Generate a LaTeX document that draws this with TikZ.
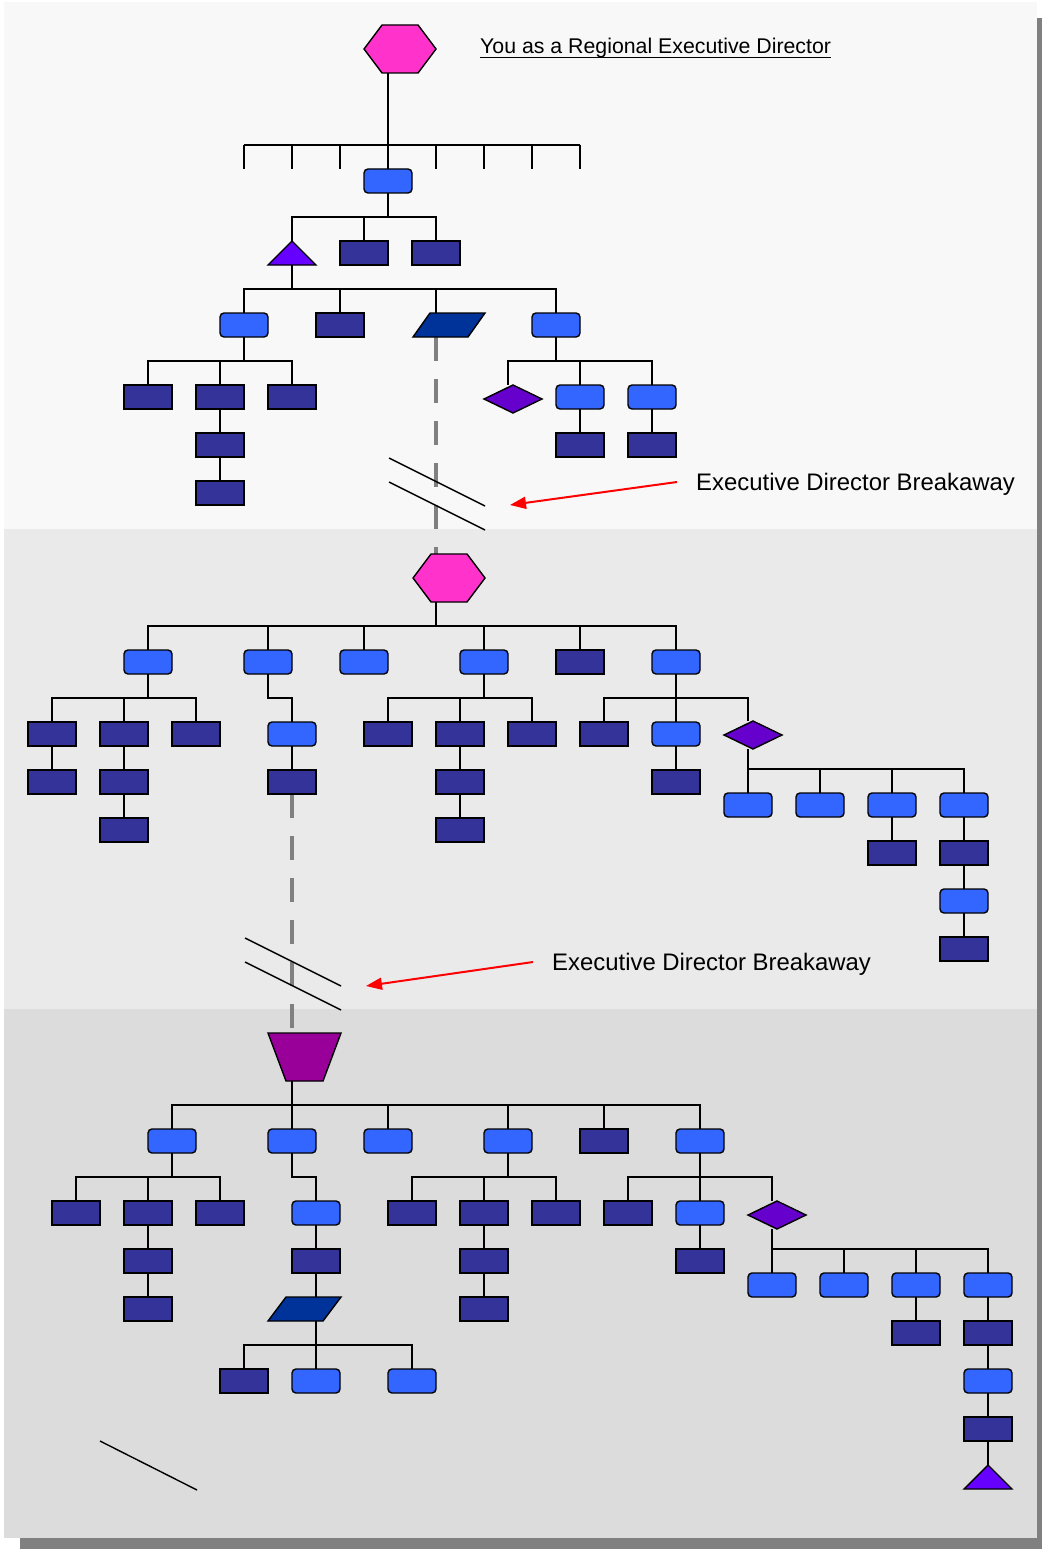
\documentclass[tikz,border=0pt]{standalone}
\usepackage{fontspec}
\setmainfont{Liberation Sans}
\usetikzlibrary{arrows.meta}
\definecolor{lblue}{HTML}{3366FF}
\definecolor{dblue}{HTML}{333399}
\definecolor{tric}{HTML}{6600FF}
\definecolor{diac}{HTML}{6600CC}
\definecolor{parc}{HTML}{003399}
\definecolor{hexc}{HTML}{FF33CC}
\definecolor{trapc}{HTML}{990099}
\definecolor{dgray}{HTML}{808080}
\definecolor{bandA}{HTML}{F8F8F8}
\definecolor{bandB}{HTML}{EAEAEA}
\definecolor{bandC}{HTML}{DCDCDC}
\pgfdeclarelayer{back}
\pgfdeclarelayer{conns}
\pgfsetlayers{back,conns,main}
\begin{document}
\begin{tikzpicture}[x=1pt,y=-1pt,
  box/.style={draw=black,line width=1.4pt,minimum width=48pt,minimum height=24pt,inner sep=0pt,outer sep=0pt},
  lb/.style={box,fill=lblue,rounded corners=4pt},
  db/.style={box,fill=dblue},
  ghost/.style 2 args={inner sep=0pt,outer sep=0pt,minimum width=#1,minimum height=#2},
  shp/.style={draw=black,line width=1.4pt,line join=miter},
  conn/.style={draw=black,line width=1.3pt},
  dashl/.style={draw=dgray,line width=4pt,dash pattern=on 24pt off 18pt},
  slash/.style={draw=black,line width=1.4pt},
  redarr/.style={draw=red,line width=2pt,-{Triangle[length=16pt,width=12pt]}},
  lbl/.style={font=\fontsize{23.9}{28}\selectfont,inner sep=0pt,anchor=base west}
]
\useasboundingbox (0,0) rectangle (1042,1549);
\begin{pgfonlayer}{back}
  \fill[white] (0,0) rectangle (1042,1549);
  \fill[dgray] (20,18) rectangle (1042,1549);
  \fill[bandA] (4,2) rectangle (1037,529);
  \fill[bandB] (4,529) rectangle (1037,1009);
  \fill[bandC] (4,1009) rectangle (1037,1538);
\end{pgfonlayer}

% ---------------- top section ----------------
\node[ghost={72pt}{48pt}] (H1) at (400,49) {};
\draw[shp,fill=hexc] (H1.west) -- ([xshift=18pt]H1.north west) -- ([xshift=-18pt]H1.north east) -- (H1.east) -- ([xshift=-18pt]H1.south east) -- ([xshift=18pt]H1.south west) -- cycle;
\node[anchor=base west,inner sep=0pt,font=\fontsize{21.3}{25}\selectfont] (Title) at (480,54) {You as a Regional Executive Director};
\draw[line width=1.3pt] ([yshift=-3.5pt]Title.base west) -- ([yshift=-3.5pt]Title.base east);
\coordinate (bar0) at (388,145);

\node[lb] (B1) at (388,181) {};
\node[ghost={48pt}{24pt}] (T1) at (292,253) {};
\draw[shp,fill=tric] (T1.south west) -- (T1.north) -- (T1.south east) -- cycle;
\node[db] (D1) at (364,253) {};
\node[db] (D2) at (436,253) {};
\node[lb] (L1) at (244,325) {};
\node[db] (D3) at (340,325) {};
\node[ghost={72pt}{24pt}] (P1) at (449,325) {};
\draw[shp,fill=parc] (P1.south west) -- ([xshift=17pt]P1.north west) -- (P1.north east) -- ([xshift=-17pt]P1.south east) -- cycle;
\node[lb] (L2) at (556,325) {};
\node[db] (D4) at (148,397) {};
\node[db] (D5) at (220,397) {};
\node[db] (D6) at (292,397) {};
\node[db] (D7) at (220,445) {};
\node[db] (D8) at (220,493) {};
\node[ghost={58pt}{28pt}] (M1) at (513,399) {};
\draw[shp,fill=diac] (M1.west) -- (M1.north) -- (M1.east) -- (M1.south) -- cycle;
\node[lb] (L3) at (580,397) {};
\node[lb] (L4) at (652,397) {};
\node[db] (D9) at (580,445) {};
\node[db] (D10) at (652,445) {};

\node[lbl] (Lab1) at (696,490) {Executive Director Breakaway};
\coordinate (tip1) at (510,505);

% ---------------- middle section ----------------
\node[ghost={72pt}{48pt}] (H2) at (449,578) {};
\draw[shp,fill=hexc] (H2.west) -- ([xshift=18pt]H2.north west) -- ([xshift=-18pt]H2.north east) -- (H2.east) -- ([xshift=-18pt]H2.south east) -- ([xshift=18pt]H2.south west) -- cycle;
\node[lb] (A1) at (148,662) {};
\node[lb] (A2) at (268,662) {};
\node[lb] (A3) at (364,662) {};
\node[lb] (A4) at (484,662) {};
\node[db] (A5) at (580,662) {};
\node[lb] (A6) at (676,662) {};
\node[db] (E1) at (52,734) {};
\node[db] (E2) at (124,734) {};
\node[db] (E3) at (196,734) {};
\node[db] (E4) at (52,782) {};
\node[db] (E5) at (124,782) {};
\node[db] (E6) at (124,830) {};
\node[lb] (F1) at (292,734) {};
\node[db] (F2) at (292,782) {};
\node[db] (G1) at (388,734) {};
\node[db] (G2) at (460,734) {};
\node[db] (G3) at (532,734) {};
\node[db] (G4) at (460,782) {};
\node[db] (G5) at (460,830) {};
\node[db] (K1) at (604,734) {};
\node[lb] (K2) at (676,734) {};
\node[db] (K3) at (676,782) {};
\node[ghost={58pt}{28pt}] (M2) at (753,735) {};
\draw[shp,fill=diac] (M2.west) -- (M2.north) -- (M2.east) -- (M2.south) -- cycle;
\node[lb] (N1) at (748,805) {};
\node[lb] (N2) at (820,805) {};
\node[lb] (N3) at (892,805) {};
\node[lb] (N4) at (964,805) {};
\node[db] (N5) at (892,853) {};
\node[db] (N6) at (964,853) {};
\node[lb] (N7) at (964,901) {};
\node[db] (N8) at (964,949) {};

\node[lbl] (Lab2) at (552,970) {Executive Director Breakaway};
\coordinate (tip2) at (366,986);

% ---------------- bottom section ----------------
\node[ghost={73pt}{48pt}] (Tz) at (304.5,1057) {};
\draw[shp,fill=trapc] (Tz.north west) -- (Tz.north east) -- ([xshift=-18pt]Tz.south east) -- ([xshift=18pt]Tz.south west) -- cycle;
\node[lb] (R1) at (172,1141) {};
\node[lb] (R2) at (292,1141) {};
\node[lb] (R3) at (388,1141) {};
\node[lb] (R4) at (508,1141) {};
\node[db] (R5) at (604,1141) {};
\node[lb] (R6) at (700,1141) {};
\node[db] (S1) at (76,1213) {};
\node[db] (S2) at (148,1213) {};
\node[db] (S3) at (220,1213) {};
\node[db] (S4) at (148,1261) {};
\node[db] (S5) at (148,1309) {};
\node[lb] (U1) at (316,1213) {};
\node[db] (U2) at (316,1261) {};
\node[ghost={73pt}{24pt}] (P2) at (304.5,1309) {};
\draw[shp,fill=parc] (P2.south west) -- ([xshift=18pt]P2.north west) -- (P2.north east) -- ([xshift=-18pt]P2.south east) -- cycle;
\node[db] (V1) at (244,1381) {};
\node[lb] (V2) at (316,1381) {};
\node[lb] (V3) at (412,1381) {};
\node[db] (W1) at (412,1213) {};
\node[db] (W2) at (484,1213) {};
\node[db] (W3) at (556,1213) {};
\node[db] (W4) at (484,1261) {};
\node[db] (W5) at (484,1309) {};
\node[db] (X1) at (628,1213) {};
\node[lb] (X2) at (700,1213) {};
\node[db] (X3) at (700,1261) {};
\node[ghost={58pt}{28pt}] (M3) at (777,1215) {};
\draw[shp,fill=diac] (M3.west) -- (M3.north) -- (M3.east) -- (M3.south) -- cycle;
\node[lb] (Y1) at (772,1285) {};
\node[lb] (Y2) at (844,1285) {};
\node[lb] (Y3) at (916,1285) {};
\node[lb] (Y4) at (988,1285) {};
\node[db] (Y5) at (916,1333) {};
\node[db] (Y6) at (988,1333) {};
\node[lb] (Y7) at (988,1381) {};
\node[db] (Y8) at (988,1429) {};
\node[ghost={48pt}{24pt}] (T2) at (988,1477) {};
\draw[shp,fill=tric] (T2.south west) -- (T2.north) -- (T2.south east) -- cycle;

% ---------------- connectors ----------------
\begin{pgfonlayer}{conns}
  % top
  \draw[conn] ([xshift=-12pt]H1.south) -- (B1.north);
  \draw[conn] ([xshift=-144pt]bar0) -- ([xshift=192pt]bar0);
  \foreach \dx in {-144,-96,-48,48,96,144,192}
    \draw[conn] ([xshift=\dx pt]bar0) -- ++(0,24);
  \foreach \c in {T1,D1,D2} \draw[conn] (B1.south) -- ++(0,24) -| (\c.north);
  \foreach \c in {L1,D3,L2} \draw[conn] (T1.south) -- ++(0,24) -| (\c.north);
  \draw[conn] (T1.south) -- ++(0,24) -| ([xshift=-13pt]P1.north);
  \foreach \c in {D4,D5,D6} \draw[conn] (L1.south) -- ++(0,24) -| (\c.north);
  \draw[conn] (D5.south) -- (D7.north);
  \draw[conn] (D7.south) -- (D8.north);
  \foreach \c in {L3,L4} \draw[conn] (L2.south) -- ++(0,24) -| (\c.north);
  \draw[conn] (L2.south) -- ++(0,24) -| ([xshift=-5pt]M1.north);
  \draw[conn] (L3.south) -- (D9.north);
  \draw[conn] (L4.south) -- (D10.north);
  % middle
  \foreach \c in {A1,A2,A3,A4,A5,A6} \draw[conn] ([xshift=-13pt]H2.south) -- ++(0,24) -| (\c.north);
  \foreach \c in {E1,E2,E3} \draw[conn] (A1.south) -- ++(0,24) -| (\c.north);
  \draw[conn] (E1.south) -- (E4.north);
  \draw[conn] (E2.south) -- (E5.north);
  \draw[conn] (E5.south) -- (E6.north);
  \draw[conn] (A2.south) -- ++(0,24) -| (F1.north);
  \draw[conn] (F1.south) -- (F2.north);
  \foreach \c in {G1,G2,G3} \draw[conn] (A4.south) -- ++(0,24) -| (\c.north);
  \draw[conn] (G2.south) -- (G4.north);
  \draw[conn] (G4.south) -- (G5.north);
  \foreach \c in {K1,K2} \draw[conn] (A6.south) -- ++(0,24) -| (\c.north);
  \draw[conn] (A6.south) -- ++(0,24) -| ([xshift=-5pt]M2.north);
  \draw[conn] (K2.south) -- (K3.north);
  \foreach \c in {N1,N2,N3,N4} \draw[conn] ([xshift=-5pt]M2.south) -- ++(0,20) -| (\c.north);
  \draw[conn] (N3.south) -- (N5.north);
  \draw[conn] (N4.south) -- (N6.north);
  \draw[conn] (N6.south) -- (N7.north);
  \draw[conn] (N7.south) -- (N8.north);
  % bottom
  \foreach \c in {R1,R2,R3,R4,R5,R6} \draw[conn] ([xshift=-12.5pt]Tz.south) -- ++(0,24) -| (\c.north);
  \foreach \c in {S1,S2,S3} \draw[conn] (R1.south) -- ++(0,24) -| (\c.north);
  \draw[conn] (S2.south) -- (S4.north);
  \draw[conn] (S4.south) -- (S5.north);
  \draw[conn] (R2.south) -- ++(0,24) -| (U1.north);
  \draw[conn] (U1.south) -- (U2.north);
  \draw[conn] (U2.south) -- ([xshift=11.5pt]P2.north);
  \foreach \c in {V1,V2,V3} \draw[conn] ([xshift=11.5pt]P2.south) -- ++(0,24) -| (\c.north);
  \foreach \c in {W1,W2,W3} \draw[conn] (R4.south) -- ++(0,24) -| (\c.north);
  \draw[conn] (W2.south) -- (W4.north);
  \draw[conn] (W4.south) -- (W5.north);
  \foreach \c in {X1,X2} \draw[conn] (R6.south) -- ++(0,24) -| (\c.north);
  \draw[conn] (R6.south) -- ++(0,24) -| ([xshift=-5pt]M3.north);
  \draw[conn] (X2.south) -- (X3.north);
  \foreach \c in {Y1,Y2,Y3,Y4} \draw[conn] ([xshift=-5pt]M3.south) -- ++(0,20) -| (\c.north);
  \draw[conn] (Y3.south) -- (Y5.north);
  \draw[conn] (Y4.south) -- (Y6.north);
  \draw[conn] (Y6.south) -- (Y7.north);
  \draw[conn] (Y7.south) -- (Y8.north);
  \draw[conn] (Y8.south) -- (T2.north);
  % breakaway dashed links
  \draw[dashl] ([xshift=-13pt]P1.south) -- ([xshift=-13pt]H2.north);
  \draw[dashl] (F2.south) -- ([xshift=-12.5pt]Tz.north);
\end{pgfonlayer}

% slashes and arrows
\draw[slash] (389,458) -- (485,506);
\draw[slash] (389,482) -- (485,530);
\draw[slash] (245,938) -- (341,986);
\draw[slash] (245,962) -- (341,1010);
\draw[slash] (100,1441) -- (197,1490);
\draw[redarr] ([xshift=-19pt,yshift=8pt]Lab1.base west) -- (tip1);
\draw[redarr] ([xshift=-19pt,yshift=8pt]Lab2.base west) -- (tip2);
\end{tikzpicture}
\end{document}
